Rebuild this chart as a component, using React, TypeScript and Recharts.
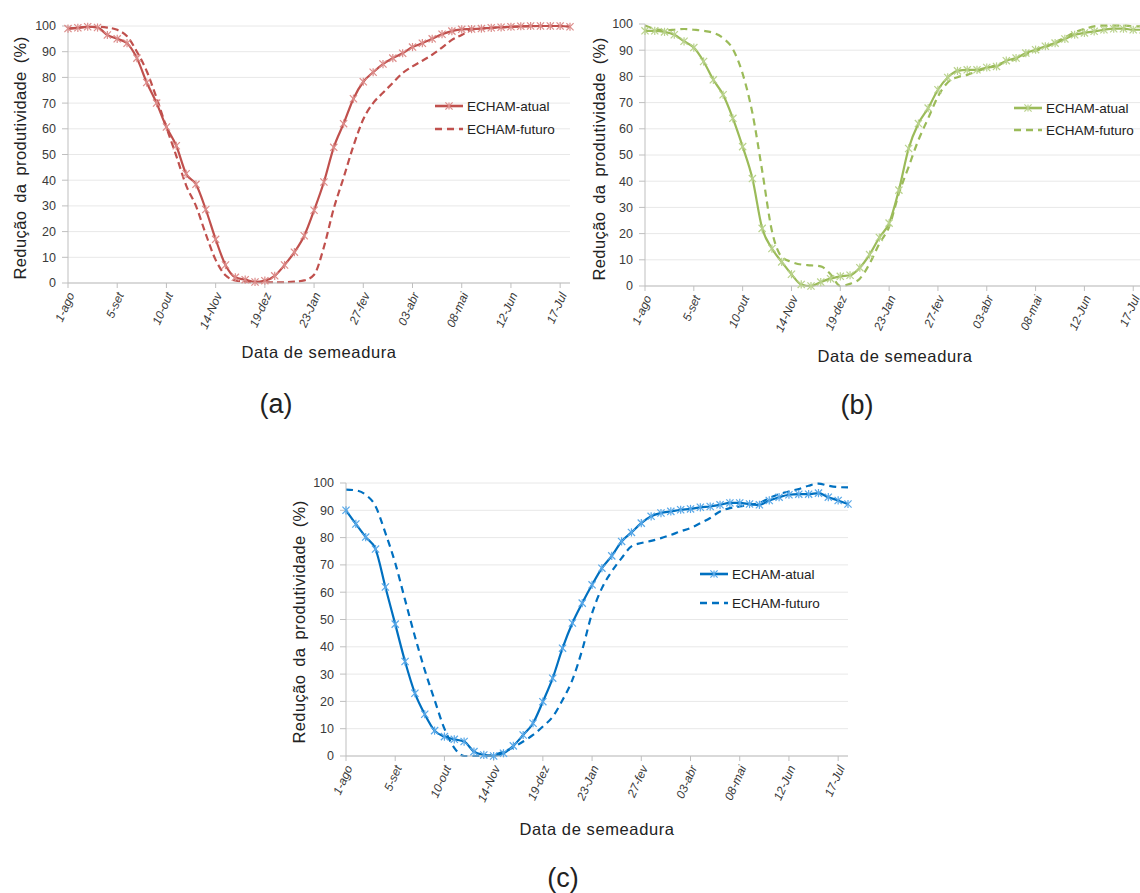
import React from 'react';
import { LineChart, Line, XAxis, YAxis, CartesianGrid } from 'recharts';

const dates = ['1-ago','8-ago','15-ago','22-ago','29-ago','5-set','12-set','19-set','26-set','3-out','10-out','17-out','24-out','31-out','7-Nov','14-Nov','21-Nov','28-Nov','5-dez','12-dez','19-dez','26-dez','2-Jan','9-Jan','16-Jan','23-Jan','30-Jan','6-fev','13-fev','20-fev','27-fev','06-mar','13-mar','20-mar','27-mar','03-abr','10-abr','17-abr','24-abr','01-mai','08-mai','15-mai','22-mai','29-mai','05-Jun','12-Jun','19-Jun','26-Jun','03-Jul','10-Jul','17-Jul','24-Jul'];

const yTicks = [0, 10, 20, 30, 40, 50, 60, 70, 80, 90, 100];

const aAtual = [99, 99.3, 99.7, 99.4, 96.5, 95, 93.3, 87.5, 78, 70, 60.7, 53.4, 42.5, 38.4, 28.6, 17, 7, 2.2, 1.3, 0.4, 0.9, 2.8, 7, 12, 18.4, 28.3, 39.3, 52.8, 62, 71.7, 78.3, 82, 85.2, 87.5, 89.4, 91.8, 93.3, 95, 96.8, 98, 98.7, 98.8, 99, 99.3, 99.5, 99.7, 99.9, 100, 100, 100, 100, 99.7];
const aFuturo = [99, 99.3, 99.7, 99.7, 99.4, 98.5, 96, 90, 82.4, 72, 60.5, 49.5, 38, 30, 19, 9, 3, 1, 0.5, 0.3, 0.3, 0.3, 0.3, 0.5, 1, 3.2, 14, 29, 41, 53.4, 63.7, 70, 74, 77.9, 81.7, 84.3, 86.5, 88.8, 91.6, 94.6, 96.5, 98.5, 99, 99.3, 99.5, 99.7, 99.8, 99.9, 100, 100, 100, 99.8];

const bAtual = [97.4, 97.4, 97, 95.9, 93.4, 91, 85.7, 78.7, 73, 64, 53.2, 41, 22, 14.3, 9.2, 4.5, 0.6, 0, 1.5, 2.8, 3.7, 4.1, 7, 12, 18.5, 24, 36.6, 52.5, 62, 67.9, 74.9, 79.6, 82.1, 82.5, 82.5, 83.4, 83.8, 86, 87, 88.9, 90.2, 91.5, 92.7, 94.3, 95.9, 96.6, 97.2, 97.8, 98.2, 98.2, 97.8, 97.8];
const bFuturo = [99.4, 98.1, 97.6, 97.8, 98.1, 97.8, 97.4, 96.6, 94.6, 90.4, 81, 66, 44, 21, 11.1, 9.2, 8.2, 7.9, 7.5, 4.5, 0, 0.8, 2.8, 8.5, 16.2, 22.6, 35.3, 45.5, 55.7, 64, 72.3, 77.7, 79.7, 80.6, 81.9, 83.2, 84.4, 85.7, 86.6, 88.3, 89.8, 91.1, 93, 94.9, 96.8, 98.1, 99.1, 99.4, 99.4, 99.4, 99.1, 99.1];

const cAtual = [90, 85, 80.2, 75.8, 61.9, 48.3, 34.6, 23, 15.3, 9.3, 7.1, 6.1, 5.3, 1.6, 0.4, 0, 1, 3.7, 7.7, 12, 19.9, 28.5, 39.5, 48.7, 56, 62.7, 68.8, 73.3, 78.6, 81.9, 85.3, 87.8, 89, 89.6, 90.2, 90.5, 91.1, 91.4, 92, 92.7, 92.7, 92.3, 92, 93.6, 94.8, 95.7, 95.9, 95.9, 96.3, 94.8, 93.6, 92.3];
const cFuturo = [97.6, 97.3, 95.7, 91.5, 81.7, 70.7, 57.2, 43.8, 31.5, 20.5, 10, 3, 0, 0, 0, 0.4, 1.6, 3.2, 5.3, 7.7, 10.8, 14.4, 20.5, 27.9, 38.9, 52.3, 61.5, 67.6, 72.5, 76.8, 78, 78.8, 79.8, 81, 82.3, 83.5, 85.3, 87.2, 89.6, 90.8, 91.4, 92, 92.7, 94.5, 95.9, 96.9, 97.8, 99, 99.8, 99, 98.5, 98.4];

const FONT = '"Liberation Sans", Arial, sans-serif';
const AXIS = '#bfbfbf';
const TICKC = '#3a3a3a';

function RotTick(props: any) {
  const { x, y, payload } = props;
  return (
    <g transform={`translate(${x + 3},${y + 3})`}>
      <text x={0} y={0} dy="0.35em" textAnchor="end" transform="rotate(-66)" fontSize={12} fill={TICKC} fontFamily={FONT} fontStyle="italic">
        {payload.value}
      </text>
    </g>
  );
}

const makeStar = (color: string) => (props: any) => {
  const { cx, cy, index } = props;
  if (cx == null || cy == null) return <g key={`n${index}`} />;
  const r = 3.6;
  return (
    <g key={`s${index}`} stroke={color} strokeWidth={1.2}>
      <line x1={cx - r} y1={cy - r} x2={cx + r} y2={cy + r} />
      <line x1={cx - r} y1={cy + r} x2={cx + r} y2={cy - r} />
      <line x1={cx} y1={cy - r - 0.5} x2={cx} y2={cy + r + 0.5} />
    </g>
  );
};

type PanelProps = {
  left: number; top: number; width: number; height: number;
  margin: { top: number; right: number; bottom: number; left: number };
  yw: number; atual: number[]; futuro: number[]; color: string; mark: string; dash: string;
};

function Panel(p: PanelProps) {
  const data = dates.map((d, i) => ({ date: d, atual: p.atual[i], futuro: p.futuro[i] }));
  return (
    <div style={{ position: 'absolute', left: p.left, top: p.top }}>
      <LineChart width={p.width} height={p.height} data={data} margin={p.margin}>
        <CartesianGrid vertical={false} stroke="#e8e8e8" />
        <XAxis dataKey="date" interval={4} tick={<RotTick />} tickLine={{ stroke: AXIS }} axisLine={{ stroke: AXIS }} tickSize={5} height={60} />
        <YAxis domain={[0, 100]} ticks={yTicks} interval={0} width={p.yw} tick={{ fontSize: 12.5, fill: TICKC, fontFamily: FONT }} tickLine={{ stroke: AXIS }} axisLine={{ stroke: AXIS }} tickSize={6} tickMargin={6} />
        <Line dataKey="futuro" type="monotone" stroke={p.color} strokeWidth={2.2} strokeDasharray={p.dash} dot={false} activeDot={false} isAnimationActive={false} />
        <Line dataKey="atual" type="monotone" stroke={p.color} strokeWidth={2.2} dot={makeStar(p.mark)} activeDot={false} isAnimationActive={false} />
      </LineChart>
    </div>
  );
}

function Txt({ x, y, size, rotate, children, ws, ls }: any) {
  return (
    <div style={{ position: 'absolute', left: x, top: y, transform: `translate(-50%,-50%) rotate(${rotate || 0}deg)`, fontSize: size, fontFamily: FONT, color: '#222', whiteSpace: 'nowrap', lineHeight: 1, wordSpacing: ws || 0, letterSpacing: ls || 0 }}>
      {children}
    </div>
  );
}

function LegendBox({ x, y, gap, color, mark, dash }: any) {
  const r = 3.6;
  const y1 = 10;
  const y2 = 10 + gap;
  return (
    <svg width={140} height={gap + 22} style={{ position: 'absolute', left: x, top: y }}>
      <line x1={4} y1={y1} x2={32} y2={y1} stroke={color} strokeWidth={2.6} />
      <g stroke={mark} strokeWidth={1.2}>
        <line x1={18 - r} y1={y1 - r} x2={18 + r} y2={y1 + r} />
        <line x1={18 - r} y1={y1 + r} x2={18 + r} y2={y1 - r} />
        <line x1={18} y1={y1 - r} x2={18} y2={y1 + r} />
      </g>
      <text x={36} y={y1} dy="0.35em" fontSize={13.5} fontFamily={FONT} fill="#222">ECHAM-atual</text>
      <line x1={4} y1={y2} x2={32} y2={y2} stroke={color} strokeWidth={2.6} strokeDasharray={dash} />
      <text x={36} y={y2} dy="0.35em" fontSize={13.5} fontFamily={FONT} fill="#222">ECHAM-futuro</text>
    </svg>
  );
}

const RED = '#C0504D';
const RED_M = '#dc8c8a';
const GREEN = '#9BBB59';
const GREEN_M = '#b9d28c';
const BLUE = '#0070C0';
const BLUE_M = '#58a8e8';

const yTitle = 'Redução da produtividade (%)';
const xTitle = 'Data de semeadura';

export default function App() {
  return (
    <div style={{ position: 'absolute', left: 0, top: 0, width: 1140, height: 893, overflow: 'hidden', background: '#fff' }}>
      <Panel left={0} top={0} width={580} height={380} margin={{ top: 26, right: 10, bottom: 37, left: 0 }} yw={68}
        atual={aAtual} futuro={aFuturo} color={RED} mark={RED_M} dash="7 4" />
      <Panel left={580} top={0} width={573} height={380} margin={{ top: 24, right: 10, bottom: 34, left: 0 }} yw={65}
        atual={bAtual} futuro={bFuturo} color={GREEN} mark={GREEN_M} dash="7 5" />
      <Panel left={280} top={460} width={578} height={380} margin={{ top: 23, right: 10, bottom: 24, left: 0 }} yw={66}
        atual={cAtual} futuro={cFuturo} color={BLUE} mark={BLUE_M} dash="7 5" />

      <LegendBox x={431} y={96} gap={23} color={RED} mark={RED_M} dash="7 5" />
      <LegendBox x={1010} y={98} gap={22} color={GREEN} mark={GREEN_M} dash="7 5" />
      <LegendBox x={696} y={564} gap={29} color={BLUE} mark={BLUE_M} dash="7 5" />

      <Txt x={20} y={158} size={16.5} rotate={-90} ws={3} ls={0.4}>{yTitle}</Txt>
      <Txt x={599} y={159} size={16.5} rotate={-90} ws={3} ls={0.4}>{yTitle}</Txt>
      <Txt x={299} y={622} size={16.5} rotate={-90} ws={3} ls={0.4}>{yTitle}</Txt>

      <Txt x={319} y={352} size={16.5} ls={0.6}>{xTitle}</Txt>
      <Txt x={895} y={356} size={16.5} ls={0.6}>{xTitle}</Txt>
      <Txt x={597} y={829} size={16.5} ls={0.6}>{xTitle}</Txt>

      <Txt x={276} y={404} size={27}>(a)</Txt>
      <Txt x={857} y={405} size={27}>(b)</Txt>
      <Txt x={563} y={878} size={27}>(c)</Txt>
    </div>
  );
}
